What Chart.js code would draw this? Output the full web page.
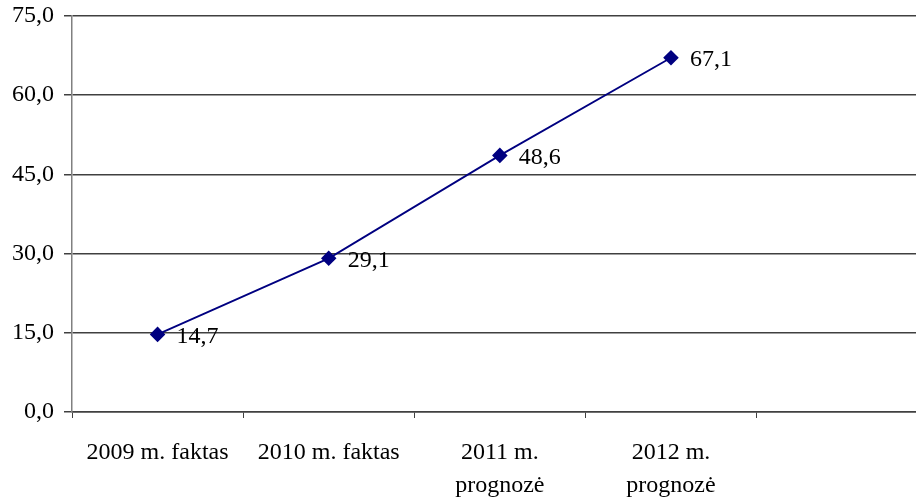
<!DOCTYPE html>
<html>
<head>
<meta charset="utf-8">
<script src="https://cdn.jsdelivr.net/npm/chart.js@4/dist/chart.umd.min.js"></script>
<style>
  html, body { margin: 0; padding: 0; background: #fff; overflow: hidden; }
  #wrap { width: 916px; height: 499px; overflow: hidden; }
  canvas { display: block; }
</style>
</head>
<body>
<div id="wrap"><canvas id="chart" width="936" height="499"></canvas></div>
<script>
// categories (last one is empty, as in the source sheet)
var categories = [['2009 m. faktas'], ['2010 m. faktas'], ['2011 m.', 'prognozė'], ['2012 m.', 'prognozė'], ['']];
var values = [14.7, 29.1, 48.6, 67.1, null];
var yMin = 0, yMax = 75, yStep = 15;

var serif = '"Liberation Serif", "Times New Roman", serif';

var valueLabels = {
    id: 'valueLabels',
    afterDatasetsDraw: function(chart) {
        var ctx = chart.ctx;
        var meta = chart.getDatasetMeta(0);
        ctx.save();
        ctx.font = '24px ' + serif;
        ctx.fillStyle = '#000';
        ctx.textAlign = 'left';
        ctx.textBaseline = 'middle';
        meta.data.forEach(function(pt, i) {
            if (values[i] == null) return;
            ctx.fillText(values[i].toFixed(1).replace('.', ','), pt.x + 19, pt.y + 2);
        });
        ctx.restore();
    }
};

new Chart(document.getElementById('chart'), {
    type: 'line',
    data: {
        labels: categories,
        datasets: [{
            data: values,
            borderColor: '#000080',
            backgroundColor: '#000080',
            borderWidth: 1.8,
            pointStyle: 'rectRot',
            pointRadius: 6.5,
            pointHoverRadius: 6.5,
            fill: false,
            tension: 0
        }]
    },
    options: {
        responsive: false,
        animation: false,
        layout: { padding: { top: 16, left: 0, right: 0, bottom: 0 } },
        plugins: { legend: { display: false }, tooltip: { enabled: false } },
        scales: {
            x: {
                offset: true,
                grid: { drawOnChartArea: false, drawTicks: true, tickLength: 6, color: '#404040', offset: true },
                border: { display: true, color: '#404040', width: 1.5 },
                ticks: {
                    color: '#000',
                    font: { family: serif, size: 24, lineHeight: 1.38 },
                    maxRotation: 0,
                    autoSkip: false,
                    padding: 18
                },
                afterFit: function(s) { s.height = 87; s.paddingLeft = 0; s.paddingRight = 0; }
            },
            y: {
                min: yMin,
                max: yMax,
                grid: { color: '#404040', lineWidth: 1.5, tickLength: 8 },
                border: { display: true, color: '#808080', width: 1.5 },
                ticks: {
                    stepSize: yStep,
                    color: '#000',
                    padding: 10,
                    font: { family: serif, size: 24 },
                    callback: function(v) { return v.toFixed(1).replace('.', ','); }
                },
                afterFit: function(s) { s.width = 72; s.paddingTop = 0; s.paddingBottom = 0; }
            }
        }
    },
    plugins: [valueLabels]
});
</script>
</body>
</html>
